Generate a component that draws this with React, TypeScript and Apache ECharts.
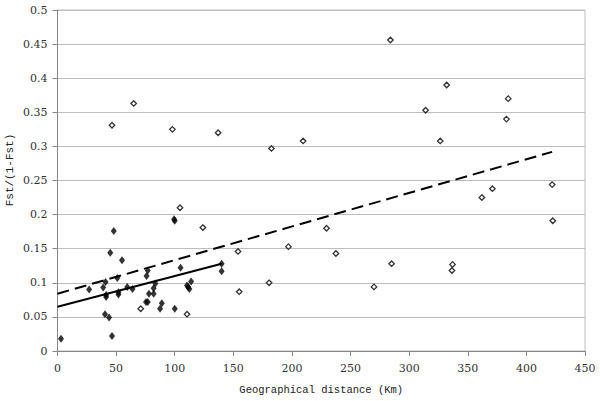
import React, { useEffect, useRef } from "react";
import * as echarts from "echarts";

// Filled diamonds: [distance km, Fst/(1-Fst)]
const filledPoints: [number, number][] = [
  [3, 0.018], [27, 0.090], [39, 0.093], [41, 0.101], [41.5, 0.082], [41.5, 0.079],
  [40.5, 0.054], [44, 0.049], [46.5, 0.022], [45, 0.144], [48, 0.176], [51, 0.107],
  [52, 0.086], [52, 0.083], [55, 0.133], [59.5, 0.094], [64, 0.091], [75.5, 0.072],
  [77, 0.072], [76, 0.110], [77, 0.118], [78, 0.084], [82, 0.084], [82, 0.092],
  [83.5, 0.099], [87.5, 0.062], [89, 0.070], [100, 0.062], [99.5, 0.193], [100, 0.191],
  [105, 0.122], [110.5, 0.096], [111.5, 0.094], [112.5, 0.091], [114, 0.102],
  [140, 0.128], [140, 0.117],
];

// Open diamonds
const openPoints: [number, number][] = [
  [46.5, 0.331], [65, 0.363], [98, 0.325], [71, 0.062], [104.5, 0.210], [110.5, 0.054],
  [124, 0.181], [137, 0.320], [154, 0.146], [155, 0.087], [180.5, 0.100], [182.5, 0.297],
  [197, 0.153], [209.5, 0.308], [229.5, 0.180], [237.5, 0.143], [270, 0.094], [284, 0.456],
  [285, 0.128], [314, 0.353], [326.5, 0.308], [332, 0.390], [336.5, 0.118], [337, 0.127],
  [362, 0.225], [371, 0.238], [383, 0.340], [384.5, 0.370], [422, 0.244], [422.5, 0.191],
];

// Trend lines (endpoints)
const solidTrend: [number, number][] = [[0, 0.065], [140, 0.128]];
const dashedTrend: [number, number][] = [[0, 0.084], [422, 0.292]];

const xTicks = { min: 0, max: 450, interval: 50 };
const yTicks = { min: 0, max: 0.5, interval: 0.05 };

const MONO = "'Liberation Mono', 'DejaVu Sans Mono', monospace";
const SERIF = "'DejaVu Serif', 'Liberation Serif', serif";

export default function App() {
  const ref = useRef<HTMLDivElement>(null);
  useEffect(() => {
    document.body.style.margin = "0";
    if (!ref.current) return;
    const chart = echarts.init(ref.current, null, { renderer: "svg" });
    chart.setOption({
      animation: false,
      backgroundColor: "#fff",
      grid: {
        left: 57.5, right: 15, top: 10, bottom: 50,
        show: true, borderColor: "#bdbdbd", borderWidth: 1,
      },
      xAxis: {
        type: "value",
        ...xTicks,
        name: "Geographical distance (Km)",
        nameLocation: "middle",
        nameGap: 33,
        nameTextStyle: { fontFamily: MONO, fontSize: 10.5, color: "#222" },
        axisLine: { show: true, lineStyle: { color: "#868686", width: 1 } },
        axisTick: { show: true, length: 5, lineStyle: { color: "#868686" } },
        axisLabel: { fontFamily: SERIF, fontSize: 11, color: "#333", margin: 12 },
        splitLine: { show: false },
      },
      yAxis: {
        type: "value",
        ...yTicks,
        axisLine: { show: true, lineStyle: { color: "#868686", width: 1 } },
        axisTick: { show: true, length: 5, lineStyle: { color: "#868686" } },
        axisLabel: { fontFamily: SERIF, fontSize: 11, color: "#333", margin: 10 },
        splitLine: { show: true, lineStyle: { color: "#bdbdbd", width: 1 } },
      },
      graphic: [
        {
          type: "text",
          x: 9.5,
          y: 170,
          rotation: Math.PI / 2,
          style: {
            text: "Fst/(1-Fst)",
            fontFamily: MONO,
            fontSize: 11,
            fill: "#222",
            align: "center",
            verticalAlign: "middle",
          },
        },
      ],
      series: [
        {
          type: "line",
          data: dashedTrend,
          symbol: "none",
          lineStyle: { color: "#000", width: 2, type: [12, 6] },
          z: 3,
        },
        {
          type: "line",
          data: solidTrend,
          symbol: "none",
          lineStyle: { color: "#000", width: 2 },
          z: 3,
        },
        {
          type: "scatter",
          data: openPoints,
          symbol: "diamond",
          symbolSize: [5.5, 5.5],
          itemStyle: { color: "#fff", borderColor: "#000", borderWidth: 1.3 },
          z: 4,
        },
        {
          type: "scatter",
          data: filledPoints,
          symbol: "diamond",
          symbolSize: [6, 8],
          itemStyle: { color: "#000" },
          z: 5,
        },
      ],
    });
    return () => chart.dispose();
  }, []);
  return <div ref={ref} style={{ width: 600, height: 401 }} />;
}
